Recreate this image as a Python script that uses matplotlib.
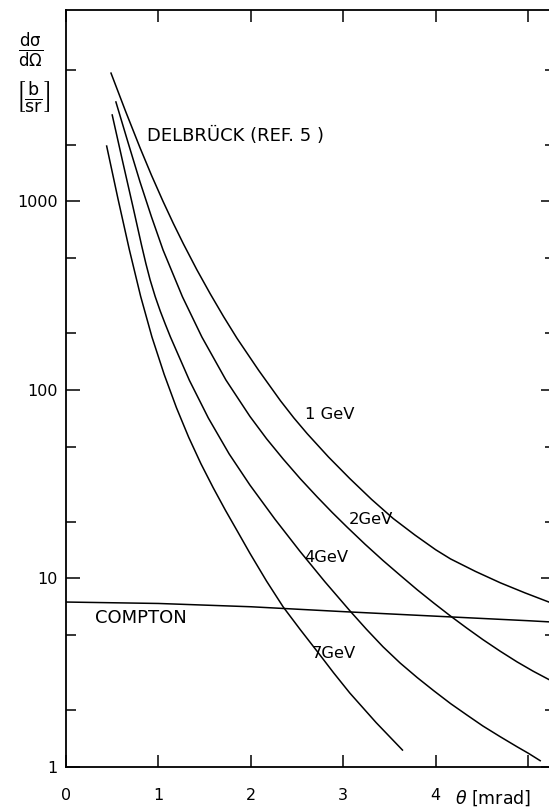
import numpy as np
import matplotlib.pyplot as plt
from matplotlib.ticker import FixedLocator, NullFormatter

# Scattering angle theta [mrad] and cross section dsigma/dOmega [b/sr]
theta_1gev = [0.487, 0.645, 0.80, 0.925, 1.05, 1.16, 1.27, 1.415, 1.56, 1.705, 1.85, 2.085,
              2.32, 2.465, 2.61, 2.84, 3.07, 3.305, 3.54, 3.775, 4.0, 4.16, 4.43, 4.70,
              4.965, 5.23, 5.3]
xsec_1gev = [4797, 3006, 1932, 1377, 1001, 767, 596, 435, 324, 245, 188, 127,
             87.7, 71.1, 58.6, 44.1, 33.9, 26.3, 20.8, 17.0, 14.2, 12.7, 10.9, 9.48,
             8.39, 7.48, 7.26]

theta_2gev = [0.54, 0.67, 0.80, 0.925, 1.05, 1.26, 1.47, 1.73, 1.99, 2.17, 2.35, 2.535,
              2.72, 2.88, 3.04, 3.235, 3.43, 3.615, 3.80, 3.98, 4.16, 4.335, 4.51,
              4.695, 4.88, 5.055, 5.23, 5.3]
xsec_2gev = [3373, 2065, 1274, 828, 553, 312, 191, 113, 72.4, 55.1, 43.0, 33.8,
             27.0, 22.4, 18.75, 15.2, 12.45, 10.4, 8.71, 7.40, 6.32, 5.46, 4.74,
             4.12, 3.61, 3.22, 2.90, 2.79]

theta_4gev = [0.50, 0.6125, 0.725, 0.8175, 0.864, 0.91, 0.965, 1.02, 1.075, 1.13, 1.335,
              1.54, 1.765, 1.99, 2.26, 2.53, 2.80, 3.07, 3.25, 3.43, 3.615, 3.80, 3.98,
              4.16, 4.335, 4.51, 4.695, 4.88, 5.005, 5.13]
xsec_4gev = [2877, 1633, 935, 586, 469, 384, 313, 262, 223, 191, 112.5,
             71.0, 45.8, 31.3, 20.65, 13.96, 9.62, 6.75, 5.38, 4.34, 3.56, 2.98, 2.535,
             2.17, 1.89, 1.65, 1.45, 1.28, 1.18, 1.08]

theta_7gev = [0.44, 0.5625, 0.685, 0.8075, 0.93, 1.0625, 1.195, 1.3275, 1.46, 1.5925,
              1.725, 1.8575, 1.99, 2.17, 2.35, 2.535, 2.72, 2.895, 3.07, 3.355, 3.64]
xsec_7gev = [1968, 1033, 556, 314, 191, 120.8, 80.5, 56.1, 40.6, 30.3,
             23.0, 17.7, 13.6, 9.68, 7.06, 5.35, 4.09, 3.16, 2.47, 1.72, 1.23]

theta_compton = [0.0, 1.0, 2.0, 3.0, 4.0, 5.0, 5.3]
xsec_compton = [7.5, 7.37, 7.08, 6.67, 6.31, 5.97, 5.86]

x_ticks = [0, 1, 2, 3, 4, 5]
x_tick_labels = ['0', '1', '2', '3', '4', '']
y_ticks = [1, 10, 100, 1000]
y_tick_labels = ['1', '10', '100', '1000']
y_minor = [2, 5, 20, 50, 200, 500, 2000, 5000]

plt.rcParams['font.family'] = 'DejaVu Sans'
plt.rcParams['mathtext.fontset'] = 'dejavusans'

fig = plt.figure(figsize=(5.49, 8.10), dpi=100)
ax = fig.add_axes([0.1202, 0.0531, 0.8907, 0.9346])

for th, xs in [(theta_1gev, xsec_1gev), (theta_2gev, xsec_2gev),
               (theta_4gev, xsec_4gev), (theta_7gev, xsec_7gev),
               (theta_compton, xsec_compton)]:
    ax.plot(th, xs, color='black', lw=1.1, solid_joinstyle='round')

ax.set_yscale('log')
ax.set_xlim(0, 5.29)
ax.set_ylim(1, 10375)

ax.xaxis.set_major_locator(FixedLocator(x_ticks))
ax.set_xticklabels(x_tick_labels)
ax.yaxis.set_major_locator(FixedLocator(y_ticks))
ax.set_yticklabels(y_tick_labels)
ax.yaxis.set_minor_locator(FixedLocator(y_minor))
ax.yaxis.set_minor_formatter(NullFormatter())
ax.xaxis.set_minor_locator(FixedLocator([]))

ax.tick_params(axis='x', which='major', direction='in', length=8.5, width=1.1,
               top=True, pad=15, labelsize=11.5)
ax.tick_params(axis='y', which='major', direction='in', length=10, width=1.1,
               right=True, pad=6, labelsize=11.5)
ax.tick_params(axis='y', which='minor', direction='in', length=7.5, width=1.1,
               right=True)
for sp in ax.spines.values():
    sp.set_linewidth(1.3)

# curve labels
txt = dict(color='black', va='center', ha='left')
ax.text(0.88, 2225, 'DELBRÜCK (REF. 5 )', fontsize=13, **txt)
ax.text(2.59, 74, '1 GeV', fontsize=11.8, **txt)
ax.text(3.06, 20.5, '2GeV', fontsize=11.8, **txt)
ax.text(2.58, 13.0, '4GeV', fontsize=11.8, **txt)
ax.text(2.66, 4.0, '7GeV', fontsize=11.8, **txt)
ax.text(0.31, 6.2, 'COMPTON', fontsize=13, **txt)

# axis titles
fig.text(31 / 549, 1 - 50 / 810, r'$\frac{\mathrm{d\sigma}}{\mathrm{d\Omega}}$',
         ha='center', va='center', fontsize=17)
fig.text(33 / 549, 1 - 98 / 810, r'$\left[\frac{\mathrm{b}}{\mathrm{sr}}\right]$',
         ha='center', va='center', fontsize=18)
fig.text(455 / 549, 1 - 798 / 810, r'$\theta$ [mrad]', ha='left', va='center',
         fontsize=12.5)

fig.savefig('out.png', dpi=100)
